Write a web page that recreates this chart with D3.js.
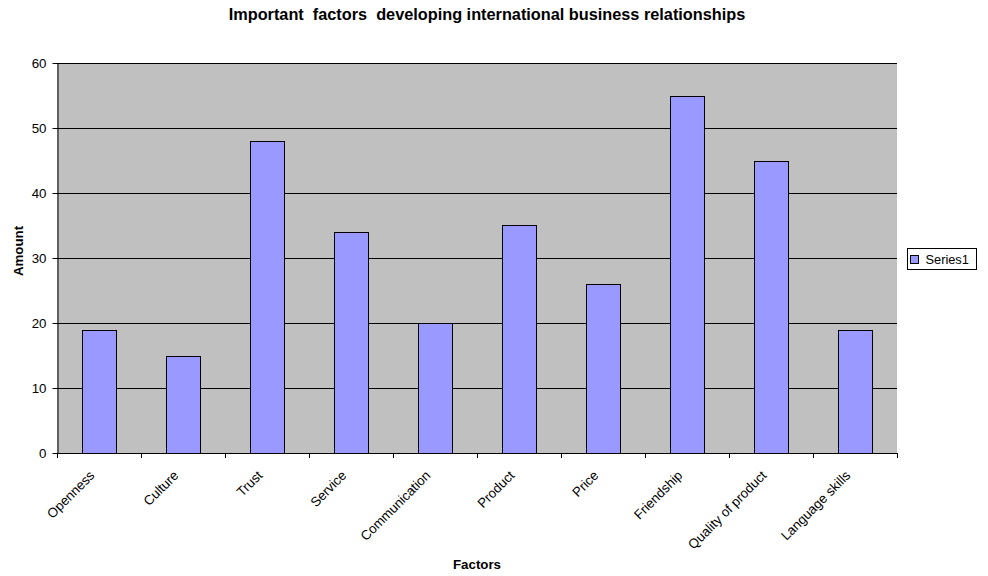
<!DOCTYPE html>
<html>
<head>
<meta charset="utf-8">
<script src="https://cdn.jsdelivr.net/npm/d3@7"></script>
<style>
body{margin:0;background:#fff;}
svg{display:block;font-family:"Liberation Sans",Arial,sans-serif;}
</style>
</head>
<body>
<svg id="chart" width="988" height="576"></svg>
<script>
const categories = ["Openness","Culture","Trust","Service","Communication","Product","Price","Friendship","Quality of product","Language skills"];
const values = [19,15,48,34,20,35,26,55,45,19];
const yTicks = [0,10,20,30,40,50,60];
const seriesName = "Series1";

(function () {
const svg = d3.select("#chart");
const pL = 57, pR = 897, pT = 63, pB = 453;
const fs = 13.3;

const x = d3.scaleBand().domain(categories).range([pL, pR]).padding(0);
const y = d3.scaleLinear().domain([0, 60]).range([pB, pT]);

svg.append("rect").attr("x", pL).attr("y", pT).attr("width", pR-pL).attr("height", pB-pT)
  .attr("fill", "#c0c0c0");

// gridlines
svg.append("g").selectAll("line").data(yTicks.filter(d => d > 0)).join("line")
  .attr("x1", pL).attr("x2", pR)
  .attr("y1", d => Math.round(y(d)) + 0.5).attr("y2", d => Math.round(y(d)) + 0.5)
  .attr("stroke", "#000").attr("stroke-width", 1);

// bars
const bw = x.bandwidth() * 0.405;
svg.append("g").selectAll("rect").data(values).join("rect")
  .attr("x", (d, i) => Math.round(x(categories[i]) + (x.bandwidth() - bw) / 2) + 0.5)
  .attr("y", d => Math.round(y(d)) + 0.5)
  .attr("width", Math.round(bw))
  .attr("height", d => Math.round(y(0)) - Math.round(y(d)))
  .attr("fill", "#9999ff").attr("stroke", "#000").attr("stroke-width", 1);

// y axis
const yAxis = svg.append("g").attr("transform", `translate(${pL + 0.5},0)`)
  .call(d3.axisLeft(y).tickValues(yTicks).tickSize(5).tickPadding(6).tickSizeOuter(0));
yAxis.select(".domain").attr("stroke", "#000");
yAxis.selectAll(".tick line").attr("stroke", "#000");
yAxis.selectAll("text").attr("font-size", fs).attr("fill", "#000").attr("font-family", "Liberation Sans, Arial, sans-serif");

// x axis
const edges = categories.map(c => x(c)).concat([pR]);
const xg = svg.append("g");
xg.append("line").attr("x1", pL).attr("x2", pR).attr("y1", pB + 0.5).attr("y2", pB + 0.5).attr("stroke", "#000");
xg.selectAll("line.tk").data(edges).join("line").attr("class", "tk")
  .attr("x1", d => Math.round(d) + 0.5).attr("x2", d => Math.round(d) + 0.5)
  .attr("y1", pB).attr("y2", pB + 5).attr("stroke", "#000");
xg.selectAll("text").data(categories).join("text")
  .attr("transform", d => `translate(${x(d) + x.bandwidth()/2 - 7},${pB + 20}) rotate(-45)`)
  .attr("text-anchor", "end").attr("dy", "0.35em")
  .attr("font-size", fs).attr("fill", "#000").text(d => d);

// titles
svg.append("text").attr("x", 487).attr("y", 20).attr("text-anchor", "middle")
  .attr("font-size", 16.3).attr("font-weight", "bold").attr("xml:space", "preserve")
  .text("Important  factors  developing international business relationships");
svg.append("text").attr("x", 477).attr("y", 569).attr("text-anchor", "middle")
  .attr("font-size", fs).attr("font-weight", "bold").text("Factors");
svg.append("text").attr("transform", `translate(22.5,251) rotate(-90)`).attr("text-anchor", "middle")
  .attr("font-size", fs).attr("font-weight", "bold").text("Amount");

// legend
const lg = svg.append("g").attr("transform", "translate(907.5,248.5)");
lg.append("rect").attr("width", 69).attr("height", 21).attr("fill", "#fff").attr("stroke", "#000");
lg.append("rect").attr("x", 3).attr("y", 7).attr("width", 8).attr("height", 8).attr("fill", "#9999ff").attr("stroke", "#000");
lg.append("text").attr("x", 18).attr("y", 15.5).attr("font-size", 12.8).attr("fill", "#000").text(seriesName);
})();
</script>
</body>
</html>
